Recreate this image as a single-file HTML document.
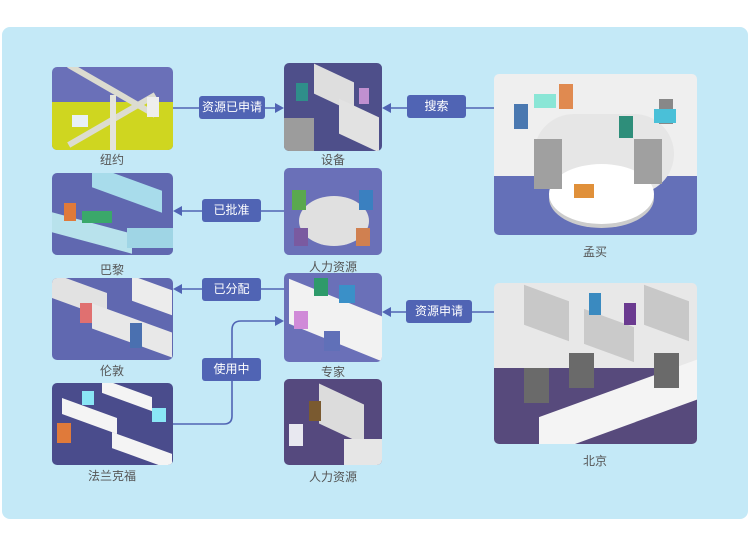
<!DOCTYPE html>
<html><head><meta charset="utf-8"><style>
body{margin:0;width:750px;height:545px;background:#fff;position:relative;overflow:hidden;font-family:"Liberation Sans","Noto Sans CJK SC",sans-serif}
.panel{position:absolute;left:2px;top:27px;width:746px;height:492px;background:#c4e9f7;border-radius:8px}
.img{position:absolute;border-radius:5px;overflow:hidden}
.img div{position:absolute}
.lab{position:absolute;font-size:12px;color:#555;text-align:center;width:120px}
.tag{position:absolute;background:#5064b4;color:#fff;font-size:12px;border-radius:3px;text-align:center;line-height:23px}
svg{position:absolute;left:0;top:0}
</style></head><body>
<div class="panel"></div>

<!-- 纽约 -->
<div class="img" style="left:52px;top:67px;width:121px;height:83px;background:#6a70b8">
 <div style="left:0;top:35px;width:121px;height:48px;background:#cfd620"></div>
 <div style="left:10px;top:20px;width:100px;height:6px;background:#dcdcd0;transform:rotate(30deg)"></div>
 <div style="left:10px;top:50px;width:100px;height:6px;background:#dcdcd0;transform:rotate(-30deg)"></div>
 <div style="left:58px;top:28px;width:6px;height:55px;background:#e4e4dc"></div>
 <div style="left:20px;top:48px;width:16px;height:12px;background:#e8f0f8"></div>
 <div style="left:95px;top:30px;width:12px;height:20px;background:#eee"></div>
</div>
<div class="lab" style="left:52px;top:151px">纽约</div>

<!-- 巴黎 -->
<div class="img" style="left:52px;top:173px;width:121px;height:82px;background:#6068b0">
 <div style="left:40px;top:5px;width:70px;height:22px;background:#a8dceb;transform:skewY(20deg)"></div>
 <div style="left:0;top:50px;width:80px;height:20px;background:#b8e2ec;transform:skewY(15deg)"></div>
 <div style="left:30px;top:38px;width:30px;height:12px;background:#3aa86a"></div>
 <div style="left:75px;top:55px;width:46px;height:20px;background:#9fd5e5"></div>
 <div style="left:12px;top:30px;width:12px;height:18px;background:#e07a3a"></div>
</div>
<div class="lab" style="left:52px;top:261px">巴黎</div>

<!-- 伦敦 -->
<div class="img" style="left:52px;top:278px;width:121px;height:82px;background:#6068b0">
 <div style="left:0;top:5px;width:55px;height:25px;background:#e2e2e2;transform:skewY(20deg)"></div>
 <div style="left:40px;top:40px;width:80px;height:25px;background:#e8e8e8;transform:skewY(20deg)"></div>
 <div style="left:80px;top:5px;width:40px;height:25px;background:#ececec;transform:skewY(20deg)"></div>
 <div style="left:28px;top:25px;width:12px;height:20px;background:#e07070"></div>
 <div style="left:78px;top:45px;width:12px;height:25px;background:#4a70b0"></div>
</div>
<div class="lab" style="left:52px;top:362px">伦敦</div>

<!-- 法兰克福 -->
<div class="img" style="left:52px;top:383px;width:121px;height:82px;background:#4a4c8c">
 <div style="left:10px;top:25px;width:55px;height:16px;background:#f4f4f4;transform:skewY(20deg)"></div>
 <div style="left:50px;top:5px;width:50px;height:14px;background:#f4f4f4;transform:skewY(20deg)"></div>
 <div style="left:60px;top:60px;width:60px;height:16px;background:#f4f4f4;transform:skewY(20deg)"></div>
 <div style="left:30px;top:8px;width:12px;height:14px;background:#8ae6f6"></div>
 <div style="left:100px;top:25px;width:14px;height:14px;background:#8ae6f6"></div>
 <div style="left:5px;top:40px;width:14px;height:20px;background:#e07a3a"></div>
</div>
<div class="lab" style="left:52px;top:467px">法兰克福</div>

<!-- 设备 -->
<div class="img" style="left:284px;top:63px;width:98px;height:88px;background:#4e4f8a">
 <div style="left:30px;top:10px;width:40px;height:30px;background:#dedede;transform:skewY(25deg)"></div>
 <div style="left:55px;top:45px;width:40px;height:35px;background:#e2e2e2;transform:skewY(25deg)"></div>
 <div style="left:0;top:55px;width:30px;height:33px;background:#9c9c9c"></div>
 <div style="left:12px;top:20px;width:12px;height:18px;background:#2f8e8a"></div>
 <div style="left:75px;top:25px;width:10px;height:16px;background:#c090d0"></div>
</div>
<div class="lab" style="left:273px;top:151px">设备</div>

<!-- 人力资源 top -->
<div class="img" style="left:284px;top:168px;width:98px;height:87px;background:#6a70b8">
 <div style="left:15px;top:28px;width:70px;height:50px;background:#e0e0e0;border-radius:50%"></div>
 <div style="left:8px;top:22px;width:14px;height:20px;background:#5aa84e"></div>
 <div style="left:75px;top:22px;width:14px;height:20px;background:#3a80c0"></div>
 <div style="left:10px;top:60px;width:14px;height:18px;background:#7a5aa0"></div>
 <div style="left:72px;top:60px;width:14px;height:18px;background:#d08050"></div>
</div>
<div class="lab" style="left:273px;top:258px">人力资源</div>

<!-- 专家 -->
<div class="img" style="left:284px;top:273px;width:98px;height:89px;background:#6a70b8">
 <div style="left:5px;top:25px;width:95px;height:45px;background:#f2f2f2;transform:skewY(22deg)"></div>
 <div style="left:30px;top:5px;width:14px;height:18px;background:#2e9a6a"></div>
 <div style="left:55px;top:12px;width:16px;height:18px;background:#3a90c8"></div>
 <div style="left:10px;top:38px;width:14px;height:18px;background:#d08ad8"></div>
 <div style="left:40px;top:58px;width:16px;height:20px;background:#6070b8"></div>
</div>
<div class="lab" style="left:273px;top:363px">专家</div>

<!-- 人力资源 bottom -->
<div class="img" style="left:284px;top:379px;width:98px;height:86px;background:#55497e">
 <div style="left:35px;top:15px;width:45px;height:40px;background:#dcdcdc;transform:skewY(25deg)"></div>
 <div style="left:60px;top:60px;width:38px;height:26px;background:#e6e6e6"></div>
 <div style="left:25px;top:22px;width:12px;height:20px;background:#7a5a30"></div>
 <div style="left:5px;top:45px;width:14px;height:22px;background:#e8e8f0"></div>
</div>
<div class="lab" style="left:273px;top:468px">人力资源</div>

<!-- 孟买 -->
<div class="img" style="left:494px;top:74px;width:203px;height:161px;background:#efefef">
 <div style="left:0;top:102px;width:203px;height:59px;background:#6470b8"></div>
 <div style="left:40px;top:40px;width:140px;height:80px;background:#e6e6e6;border-radius:40px"></div>
 <div style="left:55px;top:90px;width:105px;height:60px;background:#fff;border-radius:50%;box-shadow:0 4px 0 #ccc"></div>
 <div style="left:40px;top:65px;width:28px;height:50px;background:#a0a0a0"></div>
 <div style="left:140px;top:65px;width:28px;height:45px;background:#a0a0a0"></div>
 <div style="left:20px;top:30px;width:14px;height:25px;background:#4a78b0"></div>
 <div style="left:65px;top:10px;width:14px;height:25px;background:#e08a50"></div>
 <div style="left:125px;top:42px;width:14px;height:22px;background:#2e8e7a"></div>
 <div style="left:165px;top:25px;width:14px;height:25px;background:#888"></div>
 <div style="left:40px;top:20px;width:22px;height:14px;background:#8ae6d6"></div>
 <div style="left:160px;top:35px;width:22px;height:14px;background:#4ac0d8"></div>
 <div style="left:80px;top:110px;width:20px;height:14px;background:#e0903a"></div>
</div>
<div class="lab" style="left:535px;top:243px">孟买</div>

<!-- 北京 -->
<div class="img" style="left:494px;top:283px;width:203px;height:161px;background:#e8e8e8">
 <div style="left:0;top:85px;width:203px;height:76px;background:#574a7c"></div>
 <div style="left:30px;top:10px;width:45px;height:40px;background:#c8c8c8;transform:skewY(20deg)"></div>
 <div style="left:90px;top:35px;width:50px;height:35px;background:#cacaca;transform:skewY(20deg)"></div>
 <div style="left:150px;top:10px;width:45px;height:40px;background:#c8c8c8;transform:skewY(20deg)"></div>
 <div style="left:45px;top:105px;width:160px;height:40px;background:#f4f4f4;transform:skewY(-20deg)"></div>
 <div style="left:30px;top:85px;width:25px;height:35px;background:#6a6a6a"></div>
 <div style="left:75px;top:70px;width:25px;height:35px;background:#6a6a6a"></div>
 <div style="left:160px;top:70px;width:25px;height:35px;background:#6a6a6a"></div>
 <div style="left:95px;top:10px;width:12px;height:22px;background:#3a8ac0"></div>
 <div style="left:130px;top:20px;width:12px;height:22px;background:#6a3a90"></div>
</div>
<div class="lab" style="left:535px;top:452px">北京</div>

<svg width="750" height="545">
<g stroke="#5064b4" stroke-width="1.6" fill="none">
<line x1="173" y1="108" x2="276" y2="108"/>
<line x1="494" y1="108" x2="390" y2="108"/>
<line x1="284" y1="211" x2="181" y2="211"/>
<line x1="284" y1="289" x2="181" y2="289"/>
<line x1="494" y1="312" x2="390" y2="312"/>
<path d="M173 424 H224 Q232 424 232 416 V330 Q232 321 241 321 H276"/>
</g>
<g fill="#5064b4">
<polygon points="284,108 275,103 275,113"/>
<polygon points="382,108 391,103 391,113"/>
<polygon points="173,211 182,206 182,216"/>
<polygon points="173,289 182,284 182,294"/>
<polygon points="382,312 391,307 391,317"/>
<polygon points="284,321 275,316 275,326"/>
</g>
</svg>
<div class="tag" style="left:199px;top:96px;width:66px">资源已申请</div>
<div class="tag" style="left:407px;top:95px;width:59px">搜索</div>
<div class="tag" style="left:202px;top:199px;width:59px">已批准</div>
<div class="tag" style="left:202px;top:278px;width:59px">已分配</div>
<div class="tag" style="left:406px;top:300px;width:66px">资源申请</div>
<div class="tag" style="left:202px;top:358px;width:59px">使用中</div>
</body></html>
